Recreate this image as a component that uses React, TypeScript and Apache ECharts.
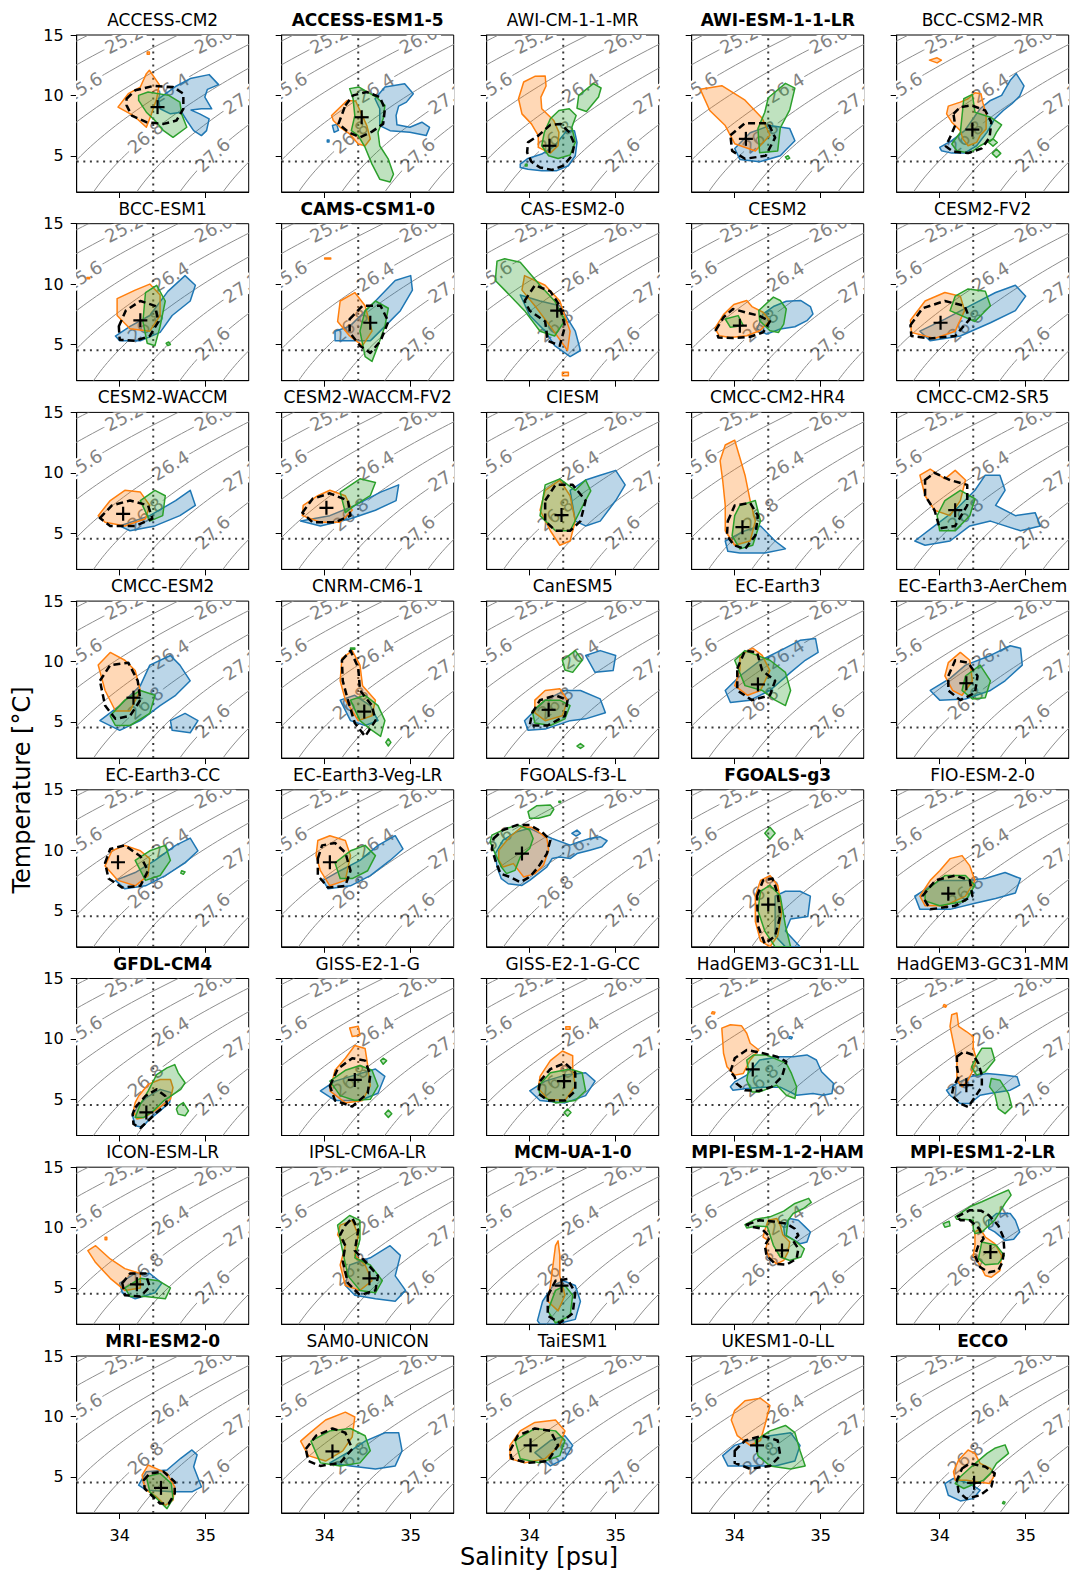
import React, { useEffect, useRef } from "react";
import * as echarts from "echarts";

const FONT = '"DejaVu Sans", sans-serif';

const MODELS = [
  "ACCESS-CM2", "ACCESS-ESM1-5", "AWI-CM-1-1-MR", "AWI-ESM-1-1-LR", "BCC-CSM2-MR",
  "BCC-ESM1", "CAMS-CSM1-0", "CAS-ESM2-0", "CESM2", "CESM2-FV2",
  "CESM2-WACCM", "CESM2-WACCM-FV2", "CIESM", "CMCC-CM2-HR4", "CMCC-CM2-SR5",
  "CMCC-ESM2", "CNRM-CM6-1", "CanESM5", "EC-Earth3", "EC-Earth3-AerChem",
  "EC-Earth3-CC", "EC-Earth3-Veg-LR", "FGOALS-f3-L", "FGOALS-g3", "FIO-ESM-2-0",
  "GFDL-CM4", "GISS-E2-1-G", "GISS-E2-1-G-CC", "HadGEM3-GC31-LL", "HadGEM3-GC31-MM",
  "ICON-ESM-LR", "IPSL-CM6A-LR", "MCM-UA-1-0", "MPI-ESM-1-2-HAM", "MPI-ESM1-2-LR",
  "MRI-ESM2-0", "SAM0-UNICON", "TaiESM1", "UKESM1-0-LL", "ECCO",
];

const BOLD_MODELS = [
  "ACCESS-ESM1-5", "AWI-ESM-1-1-LR", "CAMS-CSM1-0", "FGOALS-g3", "GFDL-CM4",
  "MCM-UA-1-0", "MPI-ESM-1-2-HAM", "MPI-ESM1-2-LR", "MRI-ESM2-0", "ECCO",
];

const SAL_TICKS = [34, 35];
const TEMP_TICKS = [5, 10, 15];
const SAL_RANGE = [33.5, 35.5];
const TEMP_RANGE = [2, 15];

// isopycnal levels (sigma0) and labelled ones with the salinity where the label sits
const ISO_LEVELS = [24.8, 25.2, 25.6, 26.0, 26.4, 26.8, 27.2, 27.6, 28.0];
const ISO_LABELS = [
  [25.2, 34.05], [25.6, 33.58], [26.0, 35.09], [26.4, 34.59],
  [26.8, 34.3], [27.2, 35.42], [27.6, 35.08],
];

// reference (ECCO mean) dotted lines
const REFERENCE = [34.39, 4.53];

// polygons per panel, flat [S,T,S,T,...]
const BLUE_REGIONS = [
  [[34.45,9.72,34.66,10.78,34.82,11.39,35.04,11.72,35.15,10.89,35.02,10.5,34.99,9.86,35.07,8.89,34.95,8.89,34.83,8.78,34.93,8.47,35.04,8.06,35.01,7.08,34.95,6.67,34.86,7.08,34.78,7.92,34.72,8.61,34.59,8.47,34.47,8.89]],
  [[34.585,9.72,34.7,10.69,34.93,10.97,35.03,10.14,34.95,9.44,34.86,9.11,34.83,8.33,34.84,7.56,34.99,7.36,35.13,7.78,35.22,7.36,35.18,6.67,34.99,6.94,34.76,7.08,34.64,7.5,34.64,8.89],[34.09,7.5,34.14,7.6,34.16,7.1,34.11,6.95],[34.03,6.3,34.05,6.3,34.05,6.15,34.03,6.15]],
  [[33.89,4.31,33.98,4.78,34.14,5.14,34.29,5.83,34.43,7.08,34.52,7.08,34.55,6.11,34.53,5.0,34.45,4.17,34.31,3.75,34.14,3.75,33.98,3.89,33.89,4.03]],
  [[34.0,5.6,34.18,6.9,34.41,7.5,34.64,7.25,34.7,6.25,34.53,5.0,34.29,4.5,34.06,4.7]],
  [[34.0,5.69,34.14,6.25,34.29,7.08,34.47,8.89,34.59,9.58,34.72,10.0,34.82,11.25,34.89,11.81,34.98,10.78,34.93,9.94,34.84,9.31,34.74,8.75,34.64,8.06,34.55,6.94,34.43,5.83,34.29,5.22,34.14,5.22,34.02,5.42]],
  [[33.95,5.7,34.12,6.5,34.35,7.4,34.56,9.4,34.76,10.7,34.88,9.9,34.82,8.6,34.61,7.4,34.47,6.0,34.24,5.3,34.0,5.3]],
  [[34.12,6.1,34.29,6.5,34.59,8.6,34.82,10.3,35.0,10.7,35.02,9.5,34.88,7.8,34.7,6.5,34.53,5.3,34.29,5.3,34.12,5.3]],
  [[33.89,9.1,34.12,8.6,34.35,8.2,34.53,6.1,34.59,4.5,34.47,4.0,34.29,4.9,34.18,6.1,34.0,7.4]],
  [[34.26,6.28,34.33,7.53,34.45,8.14,34.6,8.58,34.77,8.64,34.88,8.14,34.91,7.53,34.84,6.97,34.7,6.47,34.53,6.28,34.37,5.86]],
  [[33.77,6.1,34.06,7.1,34.35,8.2,34.65,9.3,34.88,9.9,35.0,9.0,34.88,7.8,34.59,6.8,34.24,5.7,33.89,5.3]],
  [[34.0,5.6,34.35,6.45,34.65,7.7,34.82,8.55,34.88,7.3,34.7,6.45,34.41,5.6,34.12,5.2]],
  [[33.72,6.0,34.06,6.45,34.35,7.3,34.65,8.4,34.86,9.0,34.83,7.7,34.59,6.9,34.3,6.2,33.95,5.6]],
  [[34.47,8.55,34.65,9.4,34.82,9.8,35.0,10.2,35.11,9.0,35.0,7.7,34.82,6.0,34.65,5.6,34.53,6.0]],
  [[33.89,4.35,34.12,5.2,34.3,5.6,34.47,4.35,34.59,3.7,34.35,3.35,34.06,3.35,33.92,3.5]],
  [[33.71,4.35,33.94,5.6,34.18,6.9,34.41,8.55,34.53,9.8,34.7,9.8,34.76,8.55,34.65,7.3,34.88,6.45,35.11,6.7,35.17,5.6,34.94,5.2,34.59,6.0,34.35,5.6,34.12,4.35,33.83,4.0]],
  [[33.77,5.1,34.0,6.35,34.24,8.0,34.35,9.7,34.59,10.5,34.7,9.7,34.82,8.4,34.65,7.2,34.47,6.35,34.24,5.1,34.0,4.3],[34.59,5.1,34.76,5.7,34.91,5.1,34.82,4.1,34.61,4.3]],
  [[34.18,6.8,34.35,7.2,34.53,6.35,34.62,5.1,34.47,4.7,34.3,5.1]],
  [[34.65,10.5,34.82,10.9,35.0,10.5,34.97,9.25,34.76,9.1],[33.94,5.1,34.18,6.8,34.41,7.6,34.59,7.6,34.82,6.9,34.88,5.75,34.65,5.25,34.47,5.1,34.18,4.4,33.98,4.3]],
  [[33.89,7.6,34.06,8.8,34.3,10.1,34.53,10.9,34.76,11.75,34.94,11.9,34.97,10.75,34.82,10.1,34.65,9.1,34.41,7.6,34.18,6.8,33.95,6.6]],
  [[33.89,7.6,34.12,8.6,34.3,9.7,34.59,10.5,34.82,11.3,34.94,11.1,34.96,9.7,34.76,8.4,34.59,7.6,34.3,6.9,34.0,6.8]],
  [[33.95,7.5,34.18,8.15,34.41,9.15,34.65,10.4,34.82,11.0,34.91,9.95,34.76,8.95,34.53,7.9,34.3,7.05,34.06,6.8]],
  [[33.98,7.5,34.18,8.3,34.41,9.15,34.62,10.4,34.82,11.2,34.91,10.1,34.76,9.15,34.53,7.9,34.3,7.05,34.04,6.8]],
  [[33.67,7.64,33.75,7.22,33.91,7.08,34.0,7.5,34.1,8.06,34.2,8.61,34.26,9.31,34.35,9.44,34.47,9.31,34.55,9.72,34.7,10.0,34.84,10.28,34.9,10.78,34.82,11.11,34.7,10.97,34.57,10.69,34.47,10.42,34.26,10.97,34.12,11.39,34.0,11.81,33.85,11.53,33.69,10.83,33.6,9.72,33.62,8.61],[34.49,11.39,34.55,11.67,34.59,11.39,34.54,11.17]],
  [[34.47,6.2,34.59,6.6,34.76,6.6,34.88,6.2,34.85,4.5,34.65,4.3,34.59,3.3,34.76,2.0,34.59,2.0,34.47,2.9]],
  [[33.71,6.2,34.0,7.5,34.3,7.5,34.53,7.65,34.76,8.15,34.94,7.65,34.88,6.45,34.65,6.0,34.41,5.6,34.12,5.1,33.77,5.1]],
  [[34.2,4.32,34.31,5.14,34.47,5.82,34.6,5.55,34.58,4.73,34.47,4.04,34.35,3.36,34.26,2.68,34.18,2.81,34.15,3.63]],
  [[33.95,5.7,34.12,6.5,34.35,7.0,34.59,7.5,34.7,6.9,34.62,5.5,34.41,4.9,34.12,4.9]],
  [[34.0,5.7,34.18,6.5,34.41,7.0,34.65,7.2,34.76,6.5,34.65,5.3,34.41,4.7,34.12,4.9]],
  [[33.95,6.03,34.0,6.44,34.14,7.0,34.29,8.25,34.53,8.53,34.68,8.53,34.84,8.67,34.95,8.25,35.01,7.28,35.15,6.31,35.13,5.47,35.03,5.33,34.91,5.47,34.72,5.33,34.53,6.0,34.33,6.0,34.14,5.89,33.98,5.75],[34.64,10.2,34.67,10.14,34.66,10.0,34.63,10.05]],
  [[34.08,5.75,34.2,6.31,34.35,6.86,34.55,7.14,34.74,7.0,34.9,6.86,34.93,6.17,34.82,5.75,34.58,5.47,34.47,5.33,34.35,4.64,34.24,4.64,34.12,5.33]],
  [[34.0,5.4,34.18,6.2,34.35,6.2,34.49,5.4,34.41,4.6,34.18,4.1,34.03,4.6]],
  [[34.29,6.9,34.53,7.5,34.76,8.5,34.88,7.7,34.82,6.0,34.94,4.8,34.82,3.9,34.59,4.1,34.35,4.4,34.24,5.2]],
  [[34.09,2.3,34.15,3.9,34.27,5.2,34.39,5.6,34.53,5.2,34.59,3.9,34.53,2.4,34.3,2.0,34.12,2.0]],
  [[34.57,10.06,34.64,10.75,34.74,10.61,34.82,10.06,34.88,9.64,34.84,8.81,34.76,8.67,34.66,9.08,34.58,9.36]],
  [[34.57,10.61,34.66,11.17,34.82,11.17,34.88,10.61,34.93,9.64,34.86,9.03,34.76,8.94,34.64,9.64,34.57,9.92]],
  [[34.22,4.31,34.31,5.42,34.55,5.56,34.71,6.53,34.84,7.22,34.9,6.81,34.86,5.83,34.95,4.17,34.84,3.75,34.62,3.75,34.31,3.89]],
  [[34.06,6.15,34.3,7.15,34.47,7.95,34.7,8.65,34.86,8.65,34.9,7.15,34.82,5.9,34.59,5.65,34.3,5.9]],
  [[34.06,7.0,34.24,8.0,34.41,8.4,34.5,7.6,34.41,6.5,34.24,5.9]],
  [[33.86,6.75,34.0,7.6,34.18,8.0,34.41,8.4,34.65,8.65,34.76,7.6,34.7,6.3,34.47,5.9,34.18,5.9,33.92,5.9]],
  [[34.06,4.44,34.16,4.86,34.35,4.44,34.47,3.89,34.39,3.19,34.24,3.0,34.1,3.47]],
];

const ORANGE_REGIONS = [
  [[34.345,12.08,34.46,10.89,34.43,9.72,34.37,8.47,34.31,7.36,34.16,8.33,33.98,9.03,34.1,10.14,34.24,10.69,34.31,11.8],[34.32,13.6,34.345,13.6,34.345,13.4,34.32,13.4]],
  [[34.08,8.33,34.26,9.58,34.36,9.53,34.41,8.75,34.49,7.5,34.53,6.39,34.47,5.83,34.39,5.97,34.29,6.81,34.18,7.36,34.1,7.92]],
  [[33.93,11.11,34.06,11.58,34.18,11.61,34.19,10.78,34.13,9.86,34.14,8.89,34.28,7.92,34.34,6.94,34.33,5.83,34.24,5.22,34.1,5.69,34.1,6.67,34.02,7.64,33.91,8.47,33.87,9.72]],
  [[33.6,10.5,33.85,10.8,34.12,9.6,34.32,8.1,34.41,6.7,34.24,5.4,34.0,6.0,33.89,7.5,33.71,8.75]],
  [[33.88,12.92,33.97,13.11,34.02,12.92,33.97,12.69],[34.1,9.11,34.24,9.44,34.33,9.72,34.41,10.22,34.48,10.14,34.5,9.44,34.54,8.47,34.54,7.22,34.47,6.67,34.43,6.11,34.33,5.83,34.27,6.39,34.24,7.08,34.14,7.78,34.08,8.47]],
  [[33.62,10.55,33.65,10.55,33.65,10.45,33.62,10.45],[33.97,8.8,34.18,9.5,34.35,10.0,34.47,9.1,34.47,7.4,34.35,6.1,34.12,6.3,33.97,7.4]],
  [[34.0,12.17,34.07,12.17,34.07,12.07,34.0,12.07],[34.18,8.6,34.35,9.3,34.47,8.2,34.55,6.1,34.44,4.9,34.29,5.7,34.15,6.9]],
  [[33.94,10.7,34.18,9.9,34.35,8.6,34.47,6.1,34.44,4.5,34.24,6.5,34.06,8.2,33.91,9.5],[34.38,2.7,34.45,2.7,34.45,2.4,34.38,2.4]],
  [[33.77,6.36,33.87,7.47,33.99,8.31,34.14,8.64,34.2,8.14,34.33,7.67,34.41,6.97,34.29,6.14,34.14,5.72,33.95,5.58,33.82,5.72]],
  [[33.66,7.0,33.83,8.6,34.06,9.3,34.24,9.0,34.29,7.8,34.18,6.1,33.94,5.5,33.67,6.0]],
  [[33.75,6.45,33.89,7.7,34.06,8.55,34.24,8.4,34.35,7.3,34.3,6.2,34.06,5.6,33.83,5.9]],
  [[33.75,7.3,33.92,8.1,34.06,8.55,34.24,8.1,34.32,6.9,34.18,5.9,33.95,5.9,33.74,6.45]],
  [[34.18,8.55,34.35,9.4,34.47,8.1,34.53,6.0,34.47,4.35,34.35,4.0,34.24,5.2,34.12,6.9]],
  [[33.86,9.4,33.83,11.0,33.89,12.3,34.0,12.7,34.05,11.5,34.12,9.8,34.18,7.7,34.24,6.0,34.18,4.35,34.0,4.0,33.89,5.2,33.89,7.3]],
  [[33.77,9.8,33.89,10.3,34.06,9.5,34.18,10.2,34.3,9.4,34.24,7.7,34.12,6.45,33.94,6.9,33.83,8.1]],
  [[33.75,9.7,33.89,10.75,34.06,10.1,34.18,9.25,34.24,7.6,34.12,5.9,33.95,5.9,33.83,7.6]],
  [[34.2,10.25,34.32,10.9,34.41,9.7,34.44,8.0,34.59,6.8,34.55,5.5,34.39,5.1,34.24,6.8,34.18,8.4]],
  [[34.06,6.8,34.18,7.6,34.35,7.75,34.44,6.8,34.38,5.5,34.18,5.1,34.06,5.75]],
  [[34.06,10.5,34.21,11.1,34.32,10.5,34.41,9.25,34.3,7.6,34.15,7.2,34.0,8.0,34.06,9.25]],
  [[34.1,9.9,34.24,10.75,34.35,10.1,34.38,8.4,34.26,7.2,34.15,7.6,34.06,8.8]],
  [[33.83,8.7,33.91,9.95,34.06,10.4,34.24,9.95,34.35,9.3,34.33,7.9,34.18,7.05,33.98,7.5]],
  [[33.92,10.8,34.06,11.2,34.24,10.8,34.3,9.55,34.24,7.5,34.06,7.05,33.95,8.3,33.9,9.55]],
  [[33.64,10.0,33.77,11.11,33.91,11.94,34.02,11.9,34.1,11.53,34.2,10.97,34.22,10.0,34.16,8.75,34.06,8.06,33.93,7.78,33.81,8.89,33.69,8.61,33.64,9.17]],
  [[34.24,6.2,34.3,7.5,34.41,7.9,34.5,7.1,34.55,5.0,34.5,2.9,34.41,2.0,34.3,2.5,34.24,4.1]],
  [[34.0,8.3,34.12,9.3,34.26,9.55,34.35,8.7,34.41,7.5,34.3,6.2,34.06,5.4,33.83,5.4,33.77,6.2,33.89,7.5]],
  [[34.22,5.27,34.33,6.23,34.47,6.64,34.59,6.64,34.62,5.96,34.59,5.0,34.49,4.45,34.29,3.5,34.2,3.36,34.16,4.04,34.18,4.73]],
  [[34.29,10.9,34.39,11.05,34.41,10.3,34.32,10.2],[34.12,7.4,34.24,8.4,34.35,9.45,34.47,9.2,34.5,7.8,34.53,6.1,34.44,4.9,34.24,4.7,34.06,5.7]],
  [[34.42,11.0,34.47,11.0,34.47,10.8,34.42,10.8],[34.12,6.9,34.24,8.2,34.38,9.0,34.5,8.6,34.5,7.4,34.53,6.1,34.41,4.9,34.21,5.0,34.1,5.9]],
  [[33.74,12.25,33.77,12.2,33.76,12.05,33.73,12.1],[33.85,10.89,33.95,11.17,34.08,11.08,34.14,10.47,34.18,9.64,34.28,9.08,34.18,8.25,34.1,7.14,34.0,7.0,33.91,7.69,33.87,8.81,33.86,9.92]],
  [[34.05,12.85,34.08,12.75,34.07,12.62,34.04,12.7],[34.14,12.0,34.2,12.14,34.22,11.03,34.31,10.61,34.39,10.19,34.39,9.22,34.43,8.25,34.38,7.3,34.33,6.58,34.26,6.03,34.2,6.58,34.2,8.25,34.16,9.64,34.12,11.03]],
  [[33.83,9.2,33.85,9.2,33.85,9.0,33.83,9.0],[33.63,8.1,33.72,8.5,33.89,7.4,34.06,6.6,34.24,6.2,34.24,5.0,34.06,4.8,33.89,5.8,33.72,7.1]],
  [[34.18,10.2,34.32,10.6,34.39,9.4,34.35,7.7,34.47,6.9,34.55,5.6,34.41,4.8,34.24,5.2,34.18,6.9,34.24,8.5,34.15,9.4]],
  [[34.24,5.2,34.27,6.85,34.3,8.5,34.33,8.9,34.35,7.7,34.35,6.0,34.41,4.4,34.33,3.1,34.21,3.9]],
  [[34.35,9.78,34.39,10.61,34.49,10.75,34.53,10.19,34.56,9.4,34.64,8.81,34.62,7.97,34.57,7.28,34.49,7.0,34.41,7.42,34.36,8.25,34.39,8.94,34.33,9.22]],
  [[34.41,9.64,34.47,9.92,34.53,9.22,34.64,8.67,34.72,7.69,34.7,6.44,34.6,5.89,34.53,6.03,34.47,6.86,34.39,7.69,34.41,8.53]],
  [[34.26,5.14,34.33,5.97,34.55,5.28,34.64,4.17,34.62,3.06,34.53,2.64,34.43,3.33,34.31,3.89,34.28,4.44]],
  [[33.84,8.7,34.01,9.7,34.24,10.35,34.35,9.95,34.32,8.3,34.21,7.15,34.01,6.3,33.81,6.75,33.72,7.95]],
  [[33.77,7.6,33.89,8.8,34.06,9.5,34.3,9.7,34.41,8.8,34.35,7.6,34.18,6.5,33.94,6.15,33.77,6.5]],
  [[34.0,10.5,34.12,11.3,34.3,11.5,34.41,10.9,34.35,9.25,34.3,8.0,34.18,7.6,34.03,8.4,33.96,9.7]],
  [[34.16,5.42,34.22,6.39,34.33,7.22,34.41,6.94,34.47,6.11,34.59,5.69,34.64,5.14,34.58,4.44,34.31,4.72,34.18,4.72]],
];

const GREEN_REGIONS = [
  [[34.22,10.0,34.33,10.28,34.57,10.0,34.7,9.44,34.72,8.47,34.78,7.36,34.62,6.53,34.51,7.08,34.41,7.92,34.31,8.61,34.22,9.58]],
  [[34.29,10.56,34.4,10.69,34.6,9.86,34.7,9.17,34.68,8.06,34.62,6.94,34.64,5.83,34.74,4.72,34.8,3.47,34.76,2.83,34.64,3.06,34.55,4.31,34.47,5.69,34.39,6.67,34.31,7.08,34.35,8.33,34.33,9.72]],
  [[34.24,8.06,34.34,8.75,34.46,8.89,34.54,8.33,34.49,7.36,34.53,6.11,34.47,5.06,34.33,4.78,34.22,5.0,34.14,5.83,34.17,6.94],[34.57,10.0,34.74,10.97,34.83,10.61,34.8,9.86,34.66,8.67,34.55,8.94],[33.95,4.3,33.97,4.3,33.97,4.15,33.95,4.15]],
  [[34.39,9.8,34.59,11.0,34.7,10.6,34.64,8.8,34.53,7.3,34.5,5.4,34.29,5.25,34.27,7.25,34.35,8.6],[34.59,4.9,34.62,5.0,34.64,4.8,34.61,4.7]],
  [[34.28,9.72,34.38,10.08,34.41,8.61,34.59,8.19,34.72,7.56,34.66,6.94,34.62,6.39,34.47,5.83,34.35,5.22,34.2,5.42,34.14,5.97,34.24,6.94,34.26,8.33],[34.62,6.4,34.67,6.1,34.62,5.8,34.57,6.1],[34.66,5.55,34.71,5.2,34.66,4.85,34.61,5.2]],
  [[34.3,9.3,34.43,9.9,34.53,8.6,34.47,6.5,34.41,4.9,34.32,5.1,34.27,6.9],[34.54,5.1,34.57,5.2,34.59,5.0,34.56,4.9]],
  [[34.47,7.8,34.59,8.6,34.74,8.0,34.7,6.5,34.62,4.9,34.55,3.6,34.47,4.0,34.41,6.1]],
  [[33.62,11.9,33.71,12.1,33.89,11.8,34.12,9.9,34.29,8.6,34.41,7.0,34.29,5.7,34.12,6.1,33.94,7.8,33.71,9.5,33.6,10.3]],
  [[34.28,7.81,34.45,8.92,34.53,8.64,34.6,7.94,34.57,6.69,34.51,6.0,34.41,6.14,34.29,6.97],[33.89,7.11,34.04,7.39,34.1,6.56,33.95,6.42]],
  [[34.18,9.0,34.33,9.6,34.53,9.4,34.59,8.2,34.41,6.9,34.12,7.8]],
  [[34.24,7.7,34.41,8.55,34.53,8.1,34.5,6.45,34.35,6.0]],
  [[34.18,8.4,34.41,9.5,34.59,9.2,34.53,8.1,34.35,7.3,34.24,6.7]],
  [[34.18,9.0,34.35,9.5,34.53,8.55,34.65,9.4,34.71,8.5,34.59,6.9,34.47,5.2,34.3,5.2,34.12,6.45]],
  [[34.06,7.3,34.24,7.7,34.3,6.0,34.21,4.0,34.06,3.7,33.97,4.8,34.0,6.45]],
  [[34.06,7.7,34.24,8.55,34.41,7.85,34.35,6.45,34.18,5.2,34.0,5.2,33.97,6.45]],
  [[33.89,5.5,34.06,6.8,34.24,7.6,34.41,7.2,34.35,5.7,34.12,4.7,33.95,4.7]],
  [[34.3,6.8,34.47,7.2,34.62,6.35,34.7,5.1,34.65,3.8,34.53,4.4,34.41,5.1],[34.3,11.12,34.35,11.12,34.35,11.02,34.3,11.02],[34.74,3.6,34.77,3.3,34.74,3.0,34.71,3.3]],
  [[34.38,10.1,34.53,10.9,34.61,10.1,34.5,9.1,34.41,9.3],[34.03,5.9,34.18,6.8,34.35,6.8,34.47,6.35,34.41,5.25,34.24,4.7,34.06,4.9],[34.59,3.2,34.63,3.0,34.59,2.8,34.55,3.0]],
  [[34.0,10.1,34.12,10.9,34.41,10.1,34.59,9.1,34.65,7.6,34.59,6.35,34.47,6.8,34.32,7.6,34.12,8.0]],
  [[34.3,8.8,34.47,9.7,34.59,8.4,34.53,7.0,34.38,6.9,34.26,7.6]],
  [[34.18,9.15,34.35,9.95,34.53,10.4,34.59,9.15,34.47,7.9,34.3,7.5],[34.72,8.3,34.76,8.2,34.74,8.0,34.71,8.1]],
  [[34.12,8.95,34.3,9.95,34.47,10.4,34.59,9.55,34.5,8.3,34.32,7.65,34.18,7.65]],
  [[33.98,13.19,34.08,13.67,34.24,13.75,34.28,13.39,34.24,12.92,34.1,12.64,34.0,12.64],[33.56,11.25,33.73,11.81,33.87,12.08,34.0,11.67,34.04,10.97,34.0,10.14,33.89,9.44,33.83,8.33,33.73,8.06,33.67,8.61,33.58,10.0,33.54,10.69],[34.34,14.05,34.36,14.05,34.36,13.95,34.34,13.95]],
  [[34.41,11.9,34.47,11.4,34.41,10.9,34.35,11.4],[34.3,6.6,34.41,7.1,34.53,6.2,34.59,3.75,34.65,2.0,34.47,2.0,34.35,3.3,34.27,5.0]],
  [[33.83,6.6,34.06,7.9,34.3,7.9,34.41,7.1,34.3,5.8,34.0,5.4,33.83,5.8]],
  [[34.43,7.05,34.55,7.6,34.64,7.87,34.68,7.19,34.76,6.37,34.71,5.82,34.51,4.86,34.39,4.04,34.28,3.5,34.18,3.5,34.24,4.59,34.33,5.68],[34.68,4.45,34.74,4.73,34.8,4.04,34.76,3.63,34.68,3.77,34.66,4.18]],
  [[34.06,6.5,34.24,7.4,34.41,7.8,34.55,7.4,34.62,6.1,34.53,5.0,34.35,4.9,34.18,5.3],[34.68,8.4,34.72,8.2,34.68,7.9,34.65,8.2],[34.74,4.1,34.78,3.8,34.74,3.5,34.7,3.8]],
  [[34.1,6.1,34.24,7.2,34.47,7.5,34.61,7.2,34.65,5.7,34.53,4.9,34.3,4.7,34.12,5.3],[34.44,4.2,34.48,3.9,34.44,3.6,34.4,3.9]],
  [[34.14,8.25,34.22,8.67,34.37,8.67,34.6,7.97,34.66,7.14,34.72,6.03,34.7,5.06,34.6,5.33,34.49,6.17,34.29,5.61,34.2,5.61,34.14,6.58,34.16,7.42]],
  [[34.37,7.69,34.43,8.53,34.49,9.22,34.6,9.22,34.64,8.25,34.53,7.28,34.43,7.0],[34.6,6.72,34.7,6.58,34.8,5.47,34.84,4.36,34.76,3.81,34.68,4.22,34.64,5.47,34.58,6.03]],
  [[34.06,5.0,34.24,5.8,34.45,5.6,34.59,5.0,34.53,4.1,34.3,4.3,34.12,4.3]],
  [[34.15,10.2,34.29,11.0,34.41,10.6,34.41,9.0,34.35,7.5,34.53,6.9,34.67,5.6,34.59,4.6,34.41,4.8,34.27,6.0,34.18,9.0]],
  [[34.21,3.1,34.3,4.8,34.41,5.2,34.5,4.4,34.47,2.7,34.3,2.1]],
  [[34.12,10.25,34.24,10.69,34.41,10.89,34.57,11.36,34.7,12.0,34.86,12.42,34.89,12.08,34.8,11.58,34.68,11.17,34.62,10.61,34.6,9.36,34.72,8.81,34.81,8.25,34.77,7.56,34.64,7.28,34.53,7.56,34.45,8.53,34.38,10.06,34.26,10.14,34.14,9.97]],
  [[34.18,10.89,34.35,11.72,34.49,12.14,34.66,12.69,34.8,13.11,34.83,12.69,34.76,12.0,34.7,11.3,34.64,10.61,34.49,9.64,34.41,9.5,34.39,9.92,34.39,10.61,34.28,10.69,34.2,10.69],[34.49,8.81,34.66,8.53,34.75,7.69,34.68,7.0,34.53,6.92,34.45,7.42],[34.04,10.33,34.11,10.53,34.12,10.14,34.06,10.03]],
  [[34.31,5.0,34.47,5.28,34.6,4.44,34.62,3.19,34.55,2.36,34.45,3.06,34.35,3.75]],
  [[33.84,7.95,34.06,8.8,34.3,9.0,34.47,8.4,34.53,7.15,34.41,6.15,34.18,5.9,33.95,6.15]],
  [[33.83,8.0,34.06,9.0,34.3,8.8,34.41,8.0,34.35,6.75,34.12,6.15,33.89,6.5]],
  [[34.24,8.0,34.41,8.8,34.59,9.25,34.7,8.65,34.76,7.15,34.82,5.9,34.65,5.65,34.41,5.9,34.27,6.75]],
  [[34.39,5.97,34.55,6.94,34.64,7.36,34.76,7.64,34.8,6.94,34.66,6.11,34.59,5.28,34.51,4.72,34.28,4.03,34.18,4.44,34.24,5.0],[34.74,2.95,34.76,2.9,34.75,2.75,34.73,2.8]],
];

const DASHED_REGIONS = [
  [34.08,9.72,34.18,10.42,34.39,10.78,34.62,10.69,34.74,10.14,34.74,8.89,34.66,7.92,34.51,7.64,34.31,7.78,34.14,8.33,34.08,9.17],
  [34.24,9.17,34.33,10.0,34.49,10.28,34.64,9.86,34.7,8.89,34.68,7.64,34.55,7.0,34.41,6.53,34.28,6.94,34.16,7.64],
  [33.98,6.11,34.1,6.67,34.24,7.56,34.36,7.64,34.46,6.94,34.52,5.97,34.49,5.0,34.39,4.17,34.26,3.83,34.12,4.03,34.02,4.5,33.97,5.28],
  [33.95,6.7,34.12,7.7,34.39,7.7,34.47,6.5,34.36,5.0,34.12,4.75,33.97,5.4],
  [34.16,8.47,34.24,9.03,34.37,9.17,34.53,8.75,34.6,7.78,34.58,6.53,34.49,5.61,34.33,5.22,34.16,5.33,34.07,5.78,34.12,6.53,34.18,7.5],
  [33.99,6.5,34.07,7.8,34.24,8.6,34.41,8.2,34.45,6.9,34.35,5.7,34.18,5.3,34.0,5.4],
  [34.29,7.1,34.44,8.2,34.65,8.2,34.74,6.9,34.65,5.3,34.53,4.3,34.41,4.9,34.29,6.0],
  [33.94,8.6,34.06,9.9,34.24,9.4,34.35,8.2,34.41,6.5,34.35,4.9,34.21,5.3,34.18,6.9,34.0,7.8],
  [33.78,6.19,33.87,7.25,33.98,7.94,34.12,7.67,34.28,7.39,34.41,6.92,34.33,6.0,34.18,5.64,33.98,5.53,33.81,5.58],
  [33.66,6.6,33.8,8.0,34.06,8.6,34.29,8.2,34.35,7.1,34.18,5.7,33.89,5.5,33.67,5.7],
  [33.77,6.25,33.91,7.3,34.12,7.7,34.33,7.3,34.38,6.2,34.18,5.6,33.89,5.6],
  [33.74,6.7,33.86,7.85,34.06,8.3,34.27,7.7,34.3,6.45,34.12,5.9,33.86,5.9],
  [34.18,7.7,34.3,9.0,34.5,9.0,34.65,7.7,34.59,6.0,34.47,5.2,34.3,5.2,34.18,6.0],
  [33.92,6.0,34.0,7.3,34.18,7.5,34.27,6.45,34.24,4.8,34.12,3.7,33.99,4.0,33.91,4.8],
  [33.83,9.4,33.94,10.0,34.12,9.4,34.32,9.0,34.32,7.3,34.18,5.6,34.0,5.4,33.94,6.9,33.83,8.1],
  [33.77,8.4,33.89,9.7,34.1,9.9,34.21,8.4,34.24,6.8,34.12,5.5,33.95,5.25,33.83,6.35],
  [34.2,10.1,34.3,10.9,34.39,9.5,34.41,7.6,34.55,6.35,34.59,5.1,34.47,3.8,34.35,4.9,34.27,6.8,34.21,8.4],
  [34.03,5.75,34.12,6.8,34.3,7.2,34.44,6.8,34.41,5.5,34.21,4.7,34.0,4.7],
  [34.03,9.4,34.12,10.9,34.26,10.75,34.32,9.25,34.47,8.4,34.41,7.2,34.2,6.8,34.03,7.6],
  [34.1,8.8,34.18,10.1,34.33,9.9,34.44,8.8,34.41,7.4,34.24,6.8,34.1,7.6],
  [33.83,8.95,33.89,10.1,34.06,10.4,34.24,9.5,34.33,8.3,34.24,7.05,34.03,6.9,33.87,7.65],
  [33.92,9.3,33.97,10.4,34.12,10.6,34.24,9.8,34.3,8.3,34.24,7.05,34.04,6.9,33.92,7.9],
  [33.58,10.97,33.69,11.67,33.85,12.08,34.0,12.08,34.14,11.53,34.24,10.83,34.2,9.72,34.1,8.61,34.0,7.78,33.89,7.36,33.77,7.78,33.66,8.06,33.6,9.17,33.56,10.14],
  [34.26,6.2,34.33,7.5,34.44,7.65,34.5,6.4,34.53,4.55,34.47,2.9,34.35,2.25,34.27,3.75],
  [33.8,6.2,33.95,7.5,34.18,7.9,34.35,7.5,34.38,6.2,34.18,5.4,33.89,5.1],
  [34.18,4.32,34.3,5.27,34.43,5.82,34.53,5.27,34.55,4.59,34.43,3.91,34.33,3.22,34.24,2.62,34.16,2.95,34.15,3.77],
  [34.06,6.1,34.15,7.5,34.32,8.4,34.47,8.2,34.53,7.0,34.5,5.5,34.32,4.4,34.12,4.9],
  [34.12,6.5,34.24,7.5,34.41,8.0,34.53,7.2,34.53,5.7,34.41,4.9,34.21,4.9,34.1,5.5],
  [33.95,7.28,34.0,8.39,34.14,9.08,34.33,8.81,34.49,8.53,34.6,8.11,34.55,6.86,34.43,6.03,34.28,5.69,34.12,5.75,34.02,6.31,34.0,6.86],
  [34.2,8.53,34.28,8.94,34.39,8.67,34.45,7.97,34.49,7.0,34.49,6.03,34.41,5.19,34.33,4.36,34.24,4.64,34.14,5.33,34.16,6.03,34.22,6.86,34.2,7.69],
  [34.03,5.4,34.12,6.2,34.3,6.2,34.35,5.1,34.24,4.3,34.06,4.4],
  [34.24,10.2,34.32,10.8,34.39,9.8,34.35,8.1,34.47,7.2,34.62,6.0,34.59,4.8,34.41,4.4,34.27,5.4,34.21,7.2,34.24,8.5,34.18,9.4],
  [34.21,4.35,34.3,5.6,34.44,5.75,34.53,4.6,34.5,2.9,34.35,2.1,34.21,2.7],
  [34.14,10.25,34.29,10.61,34.45,10.5,34.6,10.33,34.7,9.9,34.74,9.36,34.68,8.9,34.74,8.25,34.72,7.42,34.6,6.92,34.47,7.0,34.37,7.69,34.35,8.53,34.41,9.22,34.31,9.92,34.2,10.06],
  [34.2,10.89,34.35,11.44,34.48,11.4,34.57,11.03,34.68,10.19,34.74,9.2,34.75,8.25,34.73,7.14,34.68,6.44,34.57,6.31,34.47,6.72,34.41,7.69,34.45,8.53,34.51,9.08,34.46,9.9,34.35,10.61,34.24,10.61],
  [34.28,4.72,34.35,5.28,34.51,5.42,34.64,4.58,34.64,3.61,34.57,2.78,34.47,2.78,34.37,3.47,34.29,4.03],
  [33.78,7.3,33.9,8.4,34.09,9.0,34.24,8.65,34.32,7.3,34.18,6.15,33.95,5.9,33.81,6.3],
  [33.77,7.15,33.86,8.4,34.06,9.0,34.24,8.8,34.33,7.6,34.21,6.3,33.98,6.15,33.79,6.5],
  [34.0,7.15,34.12,8.0,34.32,8.4,34.5,8.0,34.53,6.75,34.41,5.9,34.18,5.65,34.0,6.15],
  [34.26,5.69,34.35,6.11,34.53,5.83,34.64,5.28,34.6,4.17,34.47,3.47,34.31,3.19,34.22,3.75,34.2,4.72],
];

const MEAN_POINTS = [
  [34.44, 9.03], [34.43, 8.19], [34.23, 5.83], [34.13, 6.4], [34.38, 7.17],
  [34.24, 7.0], [34.53, 6.8], [34.32, 7.8], [34.06, 6.56], [34.01, 6.8],
  [34.04, 6.6], [34.02, 7.1], [34.37, 6.5], [34.09, 5.5], [34.18, 6.9],
  [34.16, 7.0], [34.46, 5.85], [34.22, 6.0], [34.27, 8.1], [34.31, 8.2],
  [33.98, 9.0], [34.06, 9.0], [33.91, 9.72], [34.39, 5.5], [34.1, 6.4],
  [34.31, 3.91], [34.35, 6.6], [34.4, 6.5], [34.21, 7.47], [34.31, 6.17],
  [34.2, 5.3], [34.52, 5.8], [34.37, 5.2], [34.55, 8.11], [34.59, 7.97],
  [34.48, 4.08], [34.09, 7.1], [34.01, 7.6], [34.26, 7.6], [34.4, 4.5],
];

// ---------- equation of state (UNESCO 1981, p = 0), salinity passed as absolute salinity ----------
const SA_FACTOR = 35 / 35.16504;
function sigma0(sIn: number, t: number): number {
  const s = sIn * SA_FACTOR;
  const t2 = t * t, t3 = t2 * t, t4 = t3 * t, t5 = t4 * t;
  const rw = 999.842594 + 6.793952e-2 * t - 9.09529e-3 * t2 + 1.001685e-4 * t3 - 1.120083e-6 * t4 + 6.536332e-9 * t5;
  const a = 8.24493e-1 - 4.0899e-3 * t + 7.6438e-5 * t2 - 8.2467e-7 * t3 + 5.3875e-9 * t4;
  const b = -5.72466e-3 + 1.0227e-4 * t - 1.6546e-6 * t2;
  const c = 4.8314e-4;
  return rw + a * s + b * Math.pow(s, 1.5) + c * s * s - 1000;
}
function salinityOn(level: number, t: number): number {
  let lo = 25, hi = 42;
  for (let i = 0; i < 50; i++) {
    const m = (lo + hi) / 2;
    if (sigma0(m, t) < level) lo = m; else hi = m;
  }
  return (lo + hi) / 2;
}
function temperatureOn(level: number, s: number): number {
  let lo = -2, hi = 35;
  for (let i = 0; i < 50; i++) {
    const m = (lo + hi) / 2;
    if (sigma0(s, m) > level) lo = m; else hi = m;
  }
  return (lo + hi) / 2;
}
const ISO_CURVES = ISO_LEVELS.map((lv) => {
  const pts: number[][] = [];
  for (let t = 0; t <= 17.001; t += 0.25) pts.push([salinityOn(lv, t), t]);
  return pts;
});

const STYLES: Record<string, any> = {
  blue: { fill: "rgba(31,119,180,0.3)", stroke: "#1f77b4", lineWidth: 1.5, lineJoin: "round" },
  orange: { fill: "rgba(255,127,14,0.3)", stroke: "#ff7f0e", lineWidth: 1.5, lineJoin: "round" },
  green: { fill: "rgba(44,160,44,0.3)", stroke: "#2ca02c", lineWidth: 1.5, lineJoin: "round" },
  dashed: { fill: "none", stroke: "#000", lineWidth: 2.5, lineDash: [7, 4], lineJoin: "round" },
};

const COL_LEFT = [76.7, 281.7, 486.7, 691.7, 896.7];
const ROW_TOP = [35, 223.7, 412.4, 601.1, 789.8, 978.5, 1167.2, 1356];
const PANEL_W = 172;
const PANEL_H = 157;

function buildOption() {
  const grids: any[] = [];
  const xAxes: any[] = [];
  const yAxes: any[] = [];
  const series: any[] = [];
  const texts: any[] = [];

  MODELS.forEach((name, i) => {
    const r = Math.floor(i / 5);
    const c = i % 5;
    const left = COL_LEFT[c];
    const top = ROW_TOP[r];
    grids.push({ left, top, width: PANEL_W, height: PANEL_H, show: true, borderColor: "#000", borderWidth: 1, backgroundColor: "#fff" });
    xAxes.push({
      gridIndex: i, type: "value", min: SAL_RANGE[0], max: SAL_RANGE[1],
      axisLine: { show: true, onZero: false, lineStyle: { color: "#000", width: 1 } },
      axisTick: { show: true, length: 6, customValues: SAL_TICKS, lineStyle: { color: "#000", width: 1 } },
      axisLabel: { show: r === 7, customValues: SAL_TICKS, color: "#000", fontSize: 16, fontFamily: FONT, margin: 14 },
      splitLine: { show: false },
    });
    yAxes.push({
      gridIndex: i, type: "value", min: TEMP_RANGE[0], max: TEMP_RANGE[1],
      axisLine: { show: true, onZero: false, lineStyle: { color: "#000", width: 1 } },
      axisTick: { show: true, length: 6, customValues: TEMP_TICKS, lineStyle: { color: "#000", width: 1 } },
      axisLabel: { show: c === 0, customValues: TEMP_TICKS, color: "#000", fontSize: 16, fontFamily: FONT, margin: 13 },
      splitLine: { show: false },
    });

    // isopycnals
    series.push({
      type: "custom", xAxisIndex: i, yAxisIndex: i, clip: true, silent: true, z: 1,
      data: ISO_LEVELS.map((lv) => [34.5, 8, lv]),
      renderItem: (params: any, api: any) => {
        const k = params.dataIndex;
        const lv = ISO_LEVELS[k];
        const pts = ISO_CURVES[k].map((p) => api.coord(p));
        const children: any[] = [
          { type: "polyline", shape: { points: pts }, style: { stroke: "#8e8e8e", lineWidth: 1, fill: "none" } },
        ];
        const lab = ISO_LABELS.find((l) => Math.abs(l[0] - lv) < 1e-6);
        if (lab) {
          const s = lab[1];
          const p = api.coord([s, temperatureOn(lv, s)]);
          const d = 0.03;
          const p1 = api.coord([s - d, temperatureOn(lv, s - d)]);
          const p2 = api.coord([s + d, temperatureOn(lv, s + d)]);
          const ang = Math.atan2(-(p2[1] - p1[1]), p2[0] - p1[0]);
          children.push({
            type: "text", x: p[0], y: p[1], rotation: ang,
            style: { text: lv.toFixed(1), fill: "#828282", font: `18px ${FONT}`, align: "center", verticalAlign: "middle", backgroundColor: "#fff", padding: [0, 2] },
          });
        }
        return { type: "group", children };
      },
    });

    // reference dotted lines
    series.push({
      type: "custom", xAxisIndex: i, yAxisIndex: i, clip: true, silent: true, z: 2,
      data: [REFERENCE],
      renderItem: (params: any, api: any) => {
        const sv = api.value(0), tv = api.value(1);
        const a = api.coord([sv, TEMP_RANGE[0]]), b = api.coord([sv, TEMP_RANGE[1]]);
        const c1 = api.coord([SAL_RANGE[0], tv]), c2 = api.coord([SAL_RANGE[1], tv]);
        const st = { stroke: "#3c3c3c", lineWidth: 2, lineDash: [2, 4.6] };
        return {
          type: "group",
          children: [
            { type: "line", shape: { x1: a[0], y1: a[1], x2: b[0], y2: b[1] }, style: st },
            { type: "line", shape: { x1: c1[0], y1: c1[1], x2: c2[0], y2: c2[1] }, style: st },
          ],
        };
      },
    });

    // regions
    const items: { kind: string; pts: number[] }[] = [];
    BLUE_REGIONS[i].forEach((p) => items.push({ kind: "blue", pts: p }));
    ORANGE_REGIONS[i].forEach((p) => items.push({ kind: "orange", pts: p }));
    GREEN_REGIONS[i].forEach((p) => items.push({ kind: "green", pts: p }));
    items.push({ kind: "dashed", pts: DASHED_REGIONS[i] });
    series.push({
      type: "custom", xAxisIndex: i, yAxisIndex: i, clip: true, silent: true, z: 3,
      data: items.map((it) => [it.pts[0], it.pts[1]]),
      renderItem: (params: any, api: any) => {
        const it = items[params.dataIndex];
        const pts: number[][] = [];
        for (let j = 0; j < it.pts.length; j += 2) pts.push(api.coord([it.pts[j], it.pts[j + 1]]));
        return { type: "polygon", shape: { points: pts }, style: STYLES[it.kind] };
      },
    });

    // mean marker
    series.push({
      type: "custom", xAxisIndex: i, yAxisIndex: i, clip: true, silent: true, z: 4,
      data: [MEAN_POINTS[i]],
      renderItem: (params: any, api: any) => {
        const p = api.coord([api.value(0), api.value(1)]);
        const st = { stroke: "#000", lineWidth: 2.2 };
        return {
          type: "group",
          children: [
            { type: "line", shape: { x1: p[0] - 7, y1: p[1], x2: p[0] + 7, y2: p[1] }, style: st },
            { type: "line", shape: { x1: p[0], y1: p[1] - 7, x2: p[0], y2: p[1] + 7 }, style: st },
          ],
        };
      },
    });

    const bold = BOLD_MODELS.includes(name);
    texts.push({
      type: "text", x: left + PANEL_W / 2, y: top - 15, silent: true,
      style: { text: name, fill: "#000", font: `${bold ? "bold " : ""}17px ${FONT}`, align: "center", verticalAlign: "middle" },
    });
  });

  texts.push({
    type: "text", x: 22, y: 790, rotation: Math.PI / 2, silent: true,
    style: { text: "Temperature [°C]", fill: "#000", font: `24px ${FONT}`, align: "center", verticalAlign: "middle" },
  });
  texts.push({
    type: "text", x: 539, y: 1557, silent: true,
    style: { text: "Salinity [psu]", fill: "#000", font: `24px ${FONT}`, align: "center", verticalAlign: "middle" },
  });

  return {
    animation: false,
    backgroundColor: "#fff",
    grid: grids,
    xAxis: xAxes,
    yAxis: yAxes,
    series,
    graphic: { elements: texts },
  };
}

export default function App() {
  const ref = useRef<HTMLDivElement>(null);
  useEffect(() => {
    if (!ref.current) return;
    const chart = echarts.init(ref.current, undefined, { renderer: "svg" });
    chart.setOption(buildOption() as any);
    return () => chart.dispose();
  }, []);
  return <div ref={ref} style={{ position: "absolute", left: 0, top: 0, width: 1071, height: 1570 }} />;
}
